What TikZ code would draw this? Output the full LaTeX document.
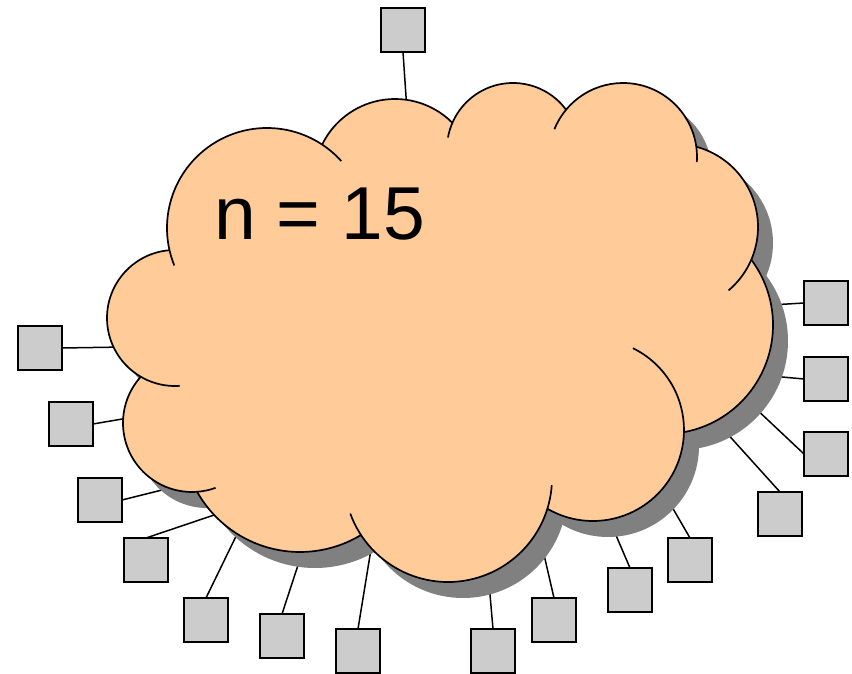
\documentclass[tikz,border=0pt]{standalone}
\usepackage{fontspec}
\setmainfont{Liberation Sans}
\definecolor{cloudfill}{RGB}{255,204,153}
\definecolor{cloudshade}{RGB}{128,128,128}
\definecolor{hostfill}{RGB}{204,204,204}
\begin{document}
\begin{tikzpicture}[x=1pt,y=1pt,
  host/.style={draw=black,line width=2pt,fill=hostfill,minimum size=44pt,inner sep=0pt,outer sep=0pt},
  wire/.style={black,line width=1.5pt},
  rim/.style={black,line width=1.7pt},
  cloudlabel/.style={font=\fontsize{75}{80}\selectfont,inner sep=0pt,anchor=base west}]
\useasboundingbox (0,0) rectangle (852,674);

% lobes of the cloud: centre x / centre y / radius
\def\lobelist{267/446/100, 175/356/68, 192/251/69, 300/240/118, 448/196/104,
  593/244/91, 664/349/109, 675/447/83, 623/517/74, 513/525/66, 395/494/81}
% core polygon through the lobe centres
\def\cloudcore{(267,446) -- (395,494) -- (513,525) -- (623,517) -- (675,447)
  -- (664,349) -- (593,244) -- (448,196) -- (300,240) -- (192,251) -- (175,356) -- cycle}

% hosts
\node[host] (h1)  at (403,644) {};
\node[host] (h2)  at (40,326) {};
\node[host] (h3)  at (71,250) {};
\node[host] (h4)  at (100,174) {};
\node[host] (h5)  at (146,114) {};
\node[host] (h6)  at (206,54) {};
\node[host] (h7)  at (282,38) {};
\node[host] (h8)  at (358,23) {};
\node[host] (h9)  at (493,23) {};
\node[host] (h10) at (554,54) {};
\node[host] (h11) at (630,84) {};
\node[host] (h12) at (690,114) {};
\node[host] (h13) at (780,160) {};
\node[host] (h14) at (826,220) {};
\node[host] (h15) at (826,295) {};
\node[host] (h16) at (826,371) {};

% attachment points inside the cloud
\coordinate (t1)  at (407,563);
\coordinate (t2)  at (125,327);
\coordinate (t3)  at (134,257);
\coordinate (t4)  at (174,187);
\coordinate (t5)  at (226,163);
\coordinate (t6)  at (241,148);
\coordinate (t7)  at (301,118);
\coordinate (t8)  at (372,131);
\coordinate (t9)  at (489,91);
\coordinate (t10) at (542,128);
\coordinate (t11) at (612,148);
\coordinate (t12) at (668,174);
\coordinate (t13) at (724,244);
\coordinate (t14) at (753,268);
\coordinate (t15) at (771,298);
\coordinate (t16) at (771,369);

\draw[wire] (h1.south) -- (t1);
\draw[wire] (h2.east) -- (t2);
\draw[wire] (h3.east) -- (t3);
\draw[wire] (h4.east) -- (t4);
\draw[wire] (h5.north) -- (t5);
\draw[wire] (h6.north) -- (t6);
\draw[wire] (h7.north) -- (t7);
\draw[wire] (h8.north) -- (t8);
\draw[wire] (h9.north) -- (t9);
\draw[wire] (h10.north) -- (t10);
\draw[wire] (h11.north) -- (t11);
\draw[wire] (h12.north) -- (t12);
\draw[wire] (h13.north) -- (t13);
\draw[wire] (h14.west) -- (t14);
\draw[wire] (h15.west) -- (t15);
\draw[wire] (h16.west) -- (t16);

% drop shadow
\begin{scope}[shift={(15,-16)}]
  \fill[cloudshade] \cloudcore;
  \foreach \x/\y/\r in \lobelist {\fill[cloudshade] (\x,\y) circle[radius=\r];}
\end{scope}

% cloud body
\fill[cloudfill] \cloudcore;
\foreach \x/\y/\r in \lobelist {\fill[cloudfill] (\x,\y) circle[radius=\r];}

% outline arcs: centre x / centre y / radius / start / end
\foreach \x/\y/\r/\a/\b in {267/446/100/42/202, 175/356/68/94.6/274,
  192/251/69/137.9/290, 300/240/118/209.3/301.1, 448/196/104/200/356,
  593/244/91/239.9/424, 664/349/109/280.5/396.8, 675/447/83/-49.8/75.1,
  623/517/74/-4/158, 513/525/66/36.6/170, 395/494/81/44.9/154.1}
  {\draw[rim] (\x,\y) ++(\a:\r) arc[start angle=\a, end angle=\b, radius=\r];}

\node[cloudlabel] (count) at (214,434) {n = 15};
\end{tikzpicture}
\end{document}
